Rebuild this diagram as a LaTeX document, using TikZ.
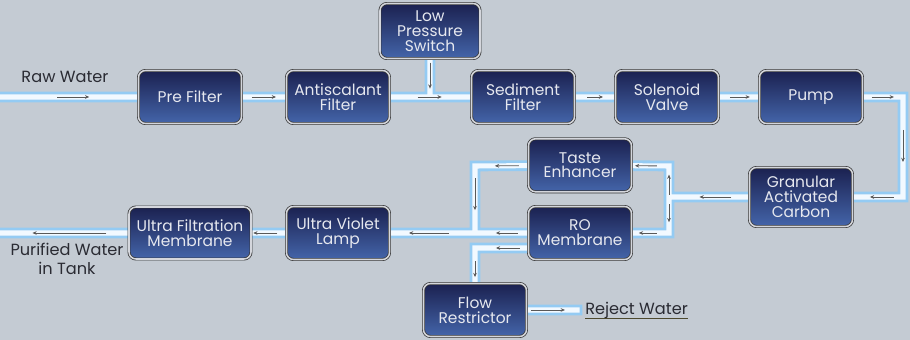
\documentclass[tikz,border=0pt]{standalone}
\usepackage{fontspec}
\setmainfont{Poppins}
\usepackage{tikz}
\usetikzlibrary{positioning, arrows.meta, decorations.markings}

\definecolor{bgcol}{HTML}{C4CBD3}
\definecolor{boxtop}{HTML}{1B2150}
\definecolor{boxbot}{HTML}{4465AA}
\definecolor{boxrim}{HTML}{D4D6DC}
\definecolor{boxtext}{HTML}{E6E8EF}
\definecolor{pipeblue}{HTML}{94CBF3}
\definecolor{pipewhite}{HTML}{F2F9FF}
\definecolor{txtcol}{HTML}{2A2B33}

\pgfdeclarelayer{bg}
\pgfsetlayers{bg,main}

\tikzset{
    unit/.style={rectangle, rounded corners=5pt, minimum width=2.575cm, minimum height=1.325cm,
        inner sep=2pt, top color=boxtop, bottom color=boxbot, draw=black!80, line width=0.5pt,
        double=boxrim, double distance=1.1pt, text=boxtext, align=center,
        font=\fontsize{11}{10.5}\selectfont},
    pipe/.style={line cap=rect, line join=miter},
    flowtip/.style={-{Stealth[length=3pt, width=2.6pt]}, line width=0.6pt, draw=black!65},
    flow/.style args={#1:#2}{decorate, decoration={markings,
        mark=at position #1 with {\draw[flowtip] (-#2*0.25mm,0) -- (#2*0.25mm,0);}}},
    watertxt/.style={text=txtcol, align=center, inner sep=0pt, font=\fontsize{11.5}{13}\selectfont}
}

\begin{document}
\begin{tikzpicture}[x=0.025cm, y=-0.025cm]
    \useasboundingbox (0,0) rectangle (910,340);

    % upper line
    \node[unit] (PF) at (190,97) {Pre Filter};
    \node[unit] (AF) at (338,97) {Antiscalant\\Filter};
    \node[unit, minimum width=2.5cm, minimum height=1.375cm] (LPS) at (430,31) {Low\\Pressure\\Switch};
    \node[unit] (SF) at (523,97) {Sediment\\Filter};
    \node[unit] (SV) at (667,97) {Solenoid\\Valve};
    \node[unit] (PU) at (811,97) {Pump};

    % lower line
    \node[unit, minimum height=1.475cm] (GAC) at (801,197) {Granular\\Activated\\Carbon};
    \node[unit] (RO) at (580,233) {RO\\Membrane};
    \node[unit, above=3.5mm of RO] (TE) {Taste\\Enhancer};
    \node[unit] (UV) at (338,233) {Ultra Violet\\Lamp};
    \node[unit, minimum width=3.05cm, minimum height=1.3cm] (UFM) at (190,233) {Ultra Filtration\\Membrane};
    \node[unit] (FR) at (475,310) {Flow\\Restrictor};

    % pipe corners and ends
    \coordinate (raw) at (0,97);
    \coordinate (pumpc) at (903,97);
    \coordinate (gacc) at (903,197);
    \coordinate (jr) at (669,197);
    \coordinate (jrt) at (669,166);
    \coordinate (jrb) at (669,233);
    \coordinate (jlt) at (475,166);
    \coordinate (jlm) at (475,233);
    \coordinate (jlb) at (475,248);
    \coordinate (rej) at (577,310);
    \coordinate (pur) at (0,233);

    \node[watertxt] (rawtxt) at (65,77) {Raw Water};
    \node[watertxt] (purtxt) at (67,259) {Purified Water\\in Tank};
    \node[watertxt, right=2mm of rej] (rejtxt) {Reject Water};
    \draw[draw=black!60!olive, line width=0.6pt] ([yshift=-3pt]rejtxt.base west) -- ([yshift=-3pt]rejtxt.base east);

    \begin{pgfonlayer}{bg}
        \fill[bgcol] (0,0) rectangle (910,340);
        \foreach \w/\c in {7.6pt/pipeblue, 3.6pt/pipewhite}
            \draw[pipe, line width=\w, draw=\c]
                (raw) -- (PF) (PF) -- (AF) (AF) -- (SF) (LPS) -- (LPS |- AF.east)
                (SF) -- (SV) (SV) -- (PU) (PU) -- (pumpc) -- (gacc) -- (GAC)
                (GAC) -- (jr) (jrt) -- (jrb) (jrt) -- (TE) (jrb) -- (RO)
                (TE) -- (jlt) -- (jlm) (RO) -- (UV)
                (RO.west |- jlb) -- (jlb) -- (FR) (FR) -- (rej)
                (UV) -- (UFM) (UFM) -- (pur);
    \end{pgfonlayer}

    % flow arrows
    \path[flow={0.53:16}] (raw) -- (PF);
    \path[flow={0.5:12}] (PF) -- (AF);
    \path[flow={0.49:12}] (AF) -- (SF);
    \path[flow={0.44:13}] (LPS) -- (LPS |- AF.east);
    \path[flow={0.5:8}] (SF) -- (SV);
    \path[flow={0.52:10}] (SV) -- (PU);
    \path[flow={0.5:11}] (PU) -- (pumpc);
    \path[flow={0.49:16}] (pumpc) -- (gacc);
    \path[flow={0.42:12}] (gacc) -- (GAC);
    \path[flow={0.42:16}] (GAC) -- (jr);
    \path[flow={0.4:10}] (jr) -- (jrt);
    \path[flow={0.45:9}] (jr) -- (jrb);
    \path[flow={0.62:11}] (jrt) -- (TE);
    \path[flow={0.57:9}] (jrb) -- (RO);
    \path[flow={0.4:12}] (TE) -- (jlt);
    \path[flow={0.42:16}] (jlt) -- (jlm);
    \path[flow={0.4:11}] (RO) -- (jlm);
    \path[flow={0.54:20}] (jlm) -- (UV);
    \path[flow={0.38:12}] (RO.west |- jlb) -- (jlb);
    \path[flow={0.6:8}] (jlb) -- (FR);
    \path[flow={0.42:17}] (FR) -- (rej);
    \path[flow={0.6:12}] (UV) -- (UFM);
    \path[flow={0.46:37}] (UFM) -- (pur);
\end{tikzpicture}
\end{document}
